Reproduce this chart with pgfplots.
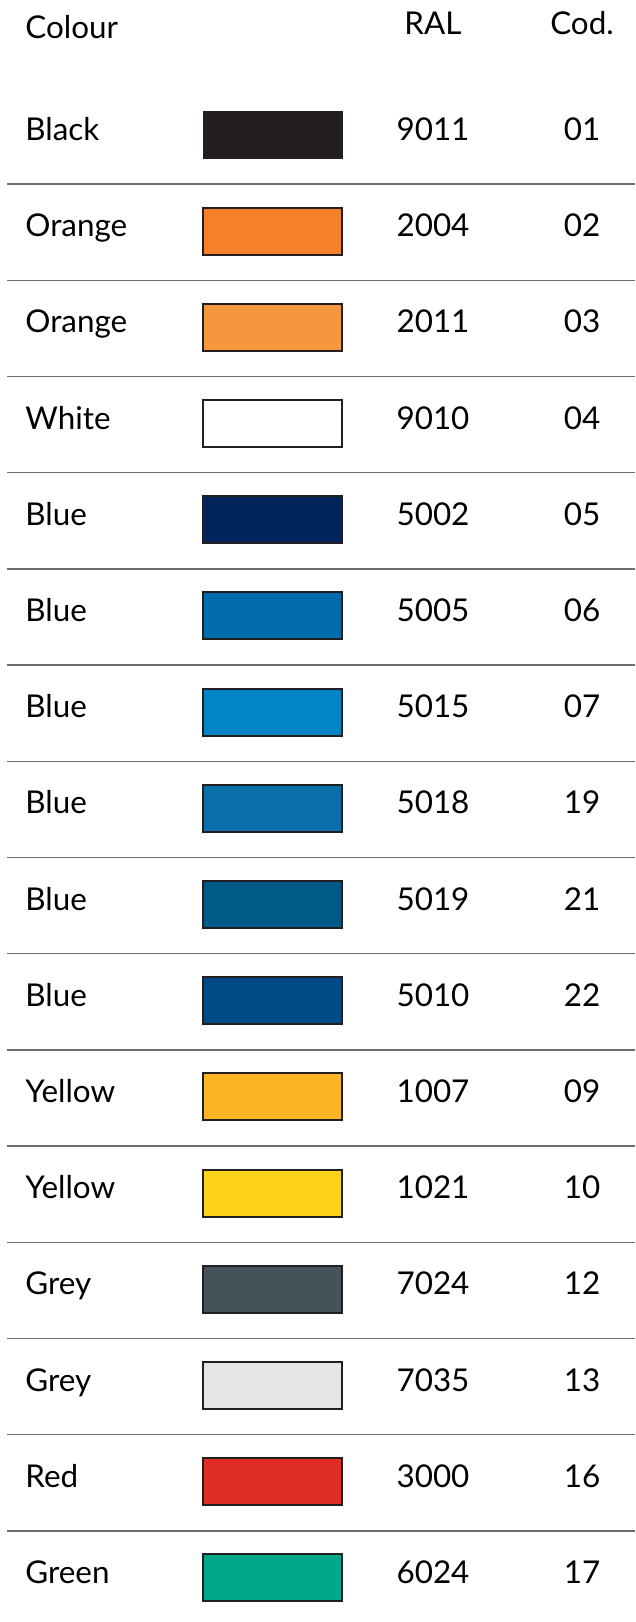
\documentclass[border=0pt]{standalone}
\usepackage{pgfplots}
\pgfplotsset{compat=1.18}
\usepackage{pgfplotstable}
\usepackage{fontspec}
\setmainfont{Lato}
\definecolor{c01}{HTML}{231F20}
\definecolor{c02}{HTML}{F4812A}
\definecolor{c03}{HTML}{F5973D}
\definecolor{c04}{HTML}{FFFFFF}
\definecolor{c05}{HTML}{00245C}
\definecolor{c06}{HTML}{006CAD}
\definecolor{c07}{HTML}{0085C7}
\definecolor{c19}{HTML}{0A6EAA}
\definecolor{c21}{HTML}{005A87}
\definecolor{c22}{HTML}{004B87}
\definecolor{c09}{HTML}{FBB526}
\definecolor{c10}{HTML}{FDD31A}
\definecolor{c12}{HTML}{44525A}
\definecolor{c13}{HTML}{E4E5E6}
\definecolor{c16}{HTML}{E02D26}
\definecolor{c17}{HTML}{00A887}
\definecolor{sep}{HTML}{6E6E6E}
\definecolor{edge}{HTML}{231F20}

\pgfplotstableread{
y name ral cod
129.3 Black 9011 01
225.5 Orange 2004 02
321.7 Orange 2011 03
417.9 White 9010 04
514.1 Blue 5002 05
610.3 Blue 5005 06
706.5 Blue 5015 07
802.7 Blue 5018 19
898.9 Blue 5019 21
995.1 Blue 5010 22
1091.3 Yellow 1007 09
1187.5 Yellow 1021 10
1283.7 Grey 7024 12
1379.9 Grey 7035 13
1476.1 Red 3000 16
1572.3 Green 6024 17
}\rows

\newcommand{\swatch}[2]{%
  \addplot[draw=edge, line width=1pt, fill=#1] coordinates
    {(203,#2-18) (342,#2-18) (342,#2+29) (203,#2+29)} --cycle;}
\newcommand{\sepline}[1]{%
  \addplot[draw=sep, line width=0.7pt, no marks] coordinates {(7,#1) (635,#1)};}

\begin{document}
\begin{tikzpicture}
\begin{axis}[
  scale only axis, width=317.5pt, height=811pt,
  xmin=0, xmax=635, ymin=0, ymax=1622, y dir=reverse,
  hide axis, clip=false,
  every node near coord/.append style={font=\fontsize{15.7}{18}\selectfont, inner sep=0pt},
]
\path (axis cs:0,0) rectangle (axis cs:635,1622);
% separators
\sepline{184.1}\sepline{280.3}\sepline{376.5}\sepline{472.7}\sepline{568.9}
\sepline{665.1}\sepline{761.3}\sepline{857.5}\sepline{953.7}\sepline{1049.9}
\sepline{1146.1}\sepline{1242.3}\sepline{1338.5}\sepline{1434.7}\sepline{1530.9}
% swatches
\addplot[draw=c01, line width=0.5pt, fill=c01] coordinates
    {(203,111.3) (342,111.3) (342,158.3) (203,158.3)} --cycle;
\swatch{c02}{225.5}
\swatch{c03}{321.7}
\swatch{c04}{417.9}
\swatch{c05}{514.1}
\swatch{c06}{610.3}
\swatch{c07}{706.5}
\swatch{c19}{802.7}
\swatch{c21}{898.9}
\swatch{c22}{995.1}
\swatch{c09}{1091.3}
\swatch{c10}{1187.5}
\swatch{c12}{1283.7}
\swatch{c13}{1379.9}
\swatch{c16}{1476.1}
\swatch{c17}{1572.3}
% text columns
\addplot[only marks, mark size=0pt, mark options={draw=none,fill=none},
  nodes near coords, point meta=explicit symbolic,
  nodes near coords style={anchor=base west}]
  table[x expr=25, y expr=\thisrow{y}+11.2, meta=name]{\rows};
\addplot[only marks, mark size=0pt, mark options={draw=none,fill=none},
  nodes near coords, point meta=explicit symbolic,
  nodes near coords style={anchor=base}]
  table[x expr=433, y expr=\thisrow{y}+11.2, meta=ral]{\rows};
\addplot[only marks, mark size=0pt, mark options={draw=none,fill=none},
  nodes near coords, point meta=explicit symbolic,
  nodes near coords style={anchor=base}]
  table[x expr=582, y expr=\thisrow{y}+11.2, meta=cod]{\rows};
% headers
\addplot[only marks, mark size=0pt, mark options={draw=none,fill=none},
  nodes near coords, point meta=explicit symbolic,
  nodes near coords style={anchor=base west}]
  coordinates {(25,38.5) [Colour]};
\addplot[only marks, mark size=0pt, mark options={draw=none,fill=none},
  nodes near coords, point meta=explicit symbolic,
  nodes near coords style={anchor=base}]
  coordinates {(433,34.5) [RAL] (582,34.5) [Cod.]};
\end{axis}
\end{tikzpicture}
\end{document}
